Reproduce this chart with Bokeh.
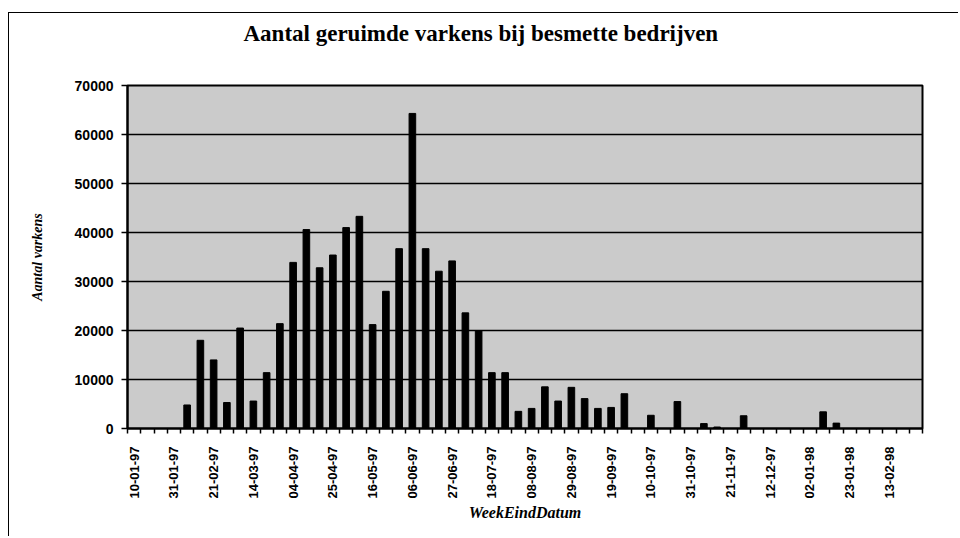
from math import pi
from bokeh.plotting import figure
from bokeh.models import Range1d, FixedTicker, Title
from bokeh.embed import file_html
from bokeh.resources import INLINE

# ---- data ----
categories = [
    "10-01-97", "17-01-97", "24-01-97", "31-01-97", "07-02-97", "14-02-97",
    "21-02-97", "28-02-97", "07-03-97", "14-03-97", "21-03-97", "28-03-97",
    "04-04-97", "11-04-97", "18-04-97", "25-04-97", "02-05-97", "09-05-97",
    "16-05-97", "23-05-97", "30-05-97", "06-06-97", "13-06-97", "20-06-97",
    "27-06-97", "04-07-97", "11-07-97", "18-07-97", "25-07-97", "01-08-97",
    "08-08-97", "15-08-97", "22-08-97", "29-08-97", "05-09-97", "12-09-97",
    "19-09-97", "26-09-97", "03-10-97", "10-10-97", "17-10-97", "24-10-97",
    "31-10-97", "07-11-97", "14-11-97", "21-11-97", "28-11-97", "05-12-97",
    "12-12-97", "19-12-97", "26-12-97", "02-01-98", "09-01-98", "16-01-98",
    "23-01-98", "30-01-98", "06-02-98", "13-02-98", "20-02-98", "27-02-98",
]
varkens = [
    0, 0, 0, 0, 4800, 18000,
    14000, 5300, 20500, 5600, 11400, 21400,
    33900, 40600, 32800, 35400, 41000, 43300,
    21200, 28000, 36700, 64300, 36700, 32100,
    34200, 23600, 20000, 11400, 11400, 3500,
    4100, 8500, 5600, 8400, 6100, 4100,
    4300, 7100, 0, 2700, 0, 5500,
    0, 1000, 300, 0, 2600, 0,
    0, 0, 0, 0, 3400, 1100,
    0, 0, 0, 0, 0, 0,
]
y_ticks = [0, 10000, 20000, 30000, 40000, 50000, 60000, 70000]
label_every = 3

title_text = "Aantal geruimde varkens bij besmette bedrijven"
x_title = "WeekEindDatum"
y_title = "Aantal varkens"

# ---- figure ----
W, H = 950, 524
p = figure(width=W, height=H, output_backend="svg", toolbar_location=None,
           x_range=Range1d(-0.5, len(categories) - 0.5),
           y_range=Range1d(0, 70000),
           min_border_left=118, min_border_right=37,
           min_border_top=72, min_border_bottom=109)

p.background_fill_color = "#cbcbcb"
p.border_fill_color = "white"
p.outline_line_color = "black"
p.outline_line_width = 2
p.styles = {"margin-left": "8px", "margin-top": "12px",
            "border-left": "1px solid black", "border-top": "1px solid black"}

idx = list(range(len(categories)))
p.vbar(x=idx, top=varkens, width=0.5, fill_color="black", line_color="black")

# x axis
lab_idx = idx[::label_every]
p.xaxis.ticker = FixedTicker(ticks=lab_idx, minor_ticks=[i - 0.5 for i in range(len(categories) + 1)])
p.xaxis.major_label_overrides = {i: categories[i] for i in lab_idx}
p.xaxis.major_label_orientation = pi / 2
p.xaxis.major_tick_in = 0
p.xaxis.major_tick_out = 0
p.xaxis.minor_tick_in = 0
p.xaxis.minor_tick_out = 5
p.xaxis.minor_tick_line_color = "black"
p.xaxis.minor_tick_line_width = 1.5
p.xaxis.major_label_standoff = 13
p.xaxis.major_label_text_font = "Liberation Sans"
p.xaxis.major_label_text_font_size = "13px"
p.xaxis.major_label_text_font_style = "bold"
p.xaxis.major_label_text_color = "black"
p.xaxis.axis_label = x_title
p.xaxis.axis_label_text_font = "Liberation Serif"
p.xaxis.axis_label_text_font_size = "16px"
p.xaxis.axis_label_text_font_style = "bold italic"
p.xaxis.axis_label_text_color = "black"
p.xaxis.axis_label_standoff = 2
p.xaxis.axis_line_color = "black"
p.xaxis.axis_line_width = 2

# y axis
p.yaxis.ticker = FixedTicker(ticks=y_ticks)
p.yaxis.formatter.use_scientific = False
p.yaxis.major_tick_in = 0
p.yaxis.major_tick_out = 6
p.yaxis.minor_tick_line_color = None
p.yaxis.major_tick_line_color = "black"
p.yaxis.major_tick_line_width = 1.5
p.yaxis.major_label_standoff = 8
p.yaxis.major_label_text_font = "Liberation Sans"
p.yaxis.major_label_text_font_size = "14px"
p.yaxis.major_label_text_font_style = "bold"
p.yaxis.major_label_text_color = "black"
p.yaxis.axis_label = y_title
p.yaxis.axis_label_text_font = "Liberation Serif"
p.yaxis.axis_label_text_font_size = "14px"
p.yaxis.axis_label_text_font_style = "bold italic"
p.yaxis.axis_label_text_color = "black"
p.yaxis.axis_label_standoff = 27
p.yaxis.axis_line_color = "black"
p.yaxis.axis_line_width = 2

p.xgrid.grid_line_color = None
p.ygrid.ticker = FixedTicker(ticks=y_ticks)
p.ygrid.grid_line_color = "black"
p.ygrid.grid_line_width = 1.5

# white spacer (nearest the frame) then the real title above it
p.add_layout(Title(text=".", standoff=25, text_font_size="10px", text_color="white"), "above")
p.add_layout(Title(text=title_text, align="left", offset=116, standoff=10,
                   text_font="Liberation Serif", text_font_size="23px",
                   text_font_style="bold", text_color="black"), "above")

open("out.html", "w").write(file_html(p, INLINE))
